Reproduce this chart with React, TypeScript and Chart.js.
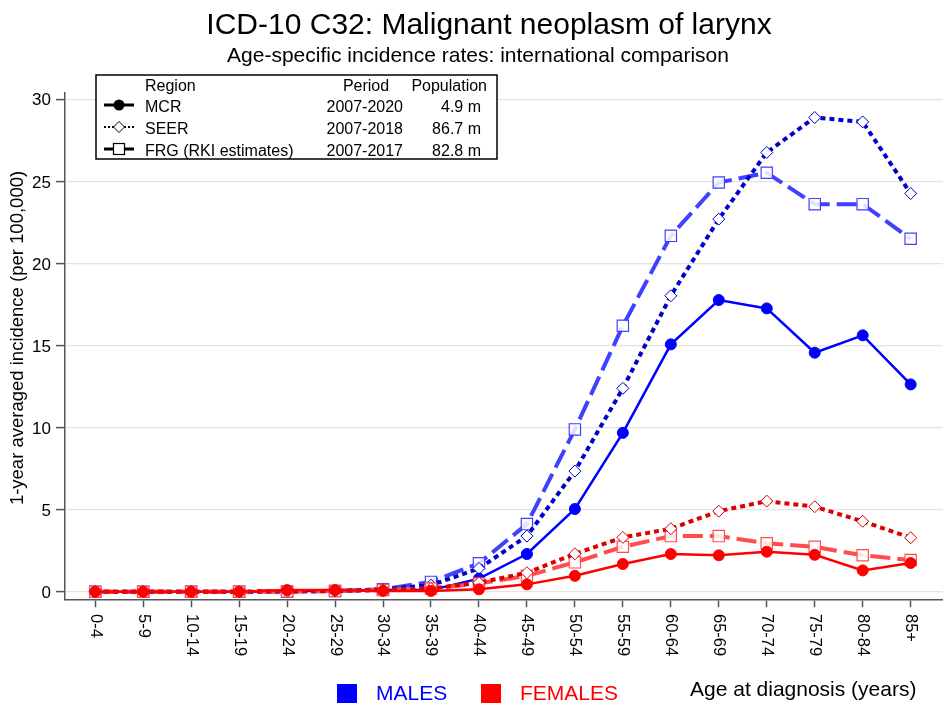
import React, { useEffect, useRef } from 'react';
import { Chart, registerables } from 'chart.js';

Chart.register(...registerables);

const categories = ['0-4', '5-9', '10-14', '15-19', '20-24', '25-29', '30-34', '35-39', '40-44', '45-49', '50-54', '55-59', '60-64', '65-69', '70-74', '75-79', '80-84', '85+'];

const maleMCR = [0, 0, 0, 0, 0.05, 0.05, 0.1, 0.1, 0.8, 2.3, 5.04, 9.68, 15.07, 17.77, 17.26, 14.56, 15.62, 12.63];
const maleSEER = [0, 0, 0, 0, 0.02, 0.05, 0.15, 0.4, 1.42, 3.39, 7.35, 12.39, 18.03, 22.7, 26.76, 28.89, 28.62, 24.26];
const maleFRG = [0, 0, 0, 0, 0.02, 0.05, 0.15, 0.6, 1.73, 4.12, 9.89, 16.2, 21.68, 24.93, 25.52, 23.61, 23.61, 21.5];
const femaleMCR = [0, 0, 0, 0, 0.1, 0.1, 0.05, 0.05, 0.15, 0.45, 0.97, 1.69, 2.3, 2.22, 2.44, 2.25, 1.3, 1.75];
const femaleSEER = [0, 0, 0, 0, 0.02, 0.04, 0.1, 0.2, 0.55, 1.16, 2.31, 3.31, 3.84, 4.91, 5.52, 5.18, 4.29, 3.29];
const femaleFRG = [0, 0, 0, 0, 0.02, 0.04, 0.1, 0.2, 0.5, 0.97, 1.79, 2.74, 3.39, 3.39, 2.95, 2.74, 2.22, 1.93];

const yTicks = [0, 5, 10, 15, 20, 25, 30];

const legendRegions = ['MCR', 'SEER', 'FRG (RKI estimates)'];
const legendPeriods = ['2007-2020', '2007-2018', '2007-2017'];
const legendPopulations = ['4.9 m', '86.7 m', '82.8 m'];

const TITLE = 'ICD-10 C32: Malignant neoplasm of larynx';
const SUBTITLE = 'Age-specific incidence rates: international comparison';
const Y_TITLE = '1-year averaged incidence (per 100,000)';
const X_TITLE = 'Age at diagnosis (years)';

const FONT = "'Liberation Sans', Arial, Helvetica, sans-serif";

type Kind = 'mcr' | 'seer' | 'frg';

function makeDataset(label: string, values: number[], color: string, kind: Kind) {
  const base: any = {
    label,
    data: values.map((v, i) => ({ x: i, y: v })),
    borderColor: color,
    pointBorderColor: color,
    tension: 0,
    fill: false,
  };
  if (kind === 'mcr') {
    return { ...base, borderWidth: 2.5, borderDash: [], pointStyle: 'circle', pointRadius: 5.5, pointBackgroundColor: color, pointBorderWidth: 1 };
  }
  if (kind === 'seer') {
    return { ...base, borderWidth: 4, borderDash: [5, 4], pointStyle: 'rectRot', pointRadius: 6, pointBackgroundColor: '#ffffff', pointBorderWidth: 1 };
  }
  return { ...base, borderWidth: 4, borderDash: [20, 7], pointStyle: 'rect', pointRadius: 8, pointBackgroundColor: 'rgba(255,255,255,0.85)', pointBorderWidth: 1.2 };
}

const overlay = {
  id: 'overlay',
  beforeDraw(chart: any) {
    const ctx = chart.ctx;
    ctx.save();
    ctx.fillStyle = '#ffffff';
    ctx.fillRect(0, 0, chart.width, chart.height);
    ctx.restore();
  },
  afterDraw(chart: any) {
    const ctx: CanvasRenderingContext2D = chart.ctx;
    ctx.save();
    ctx.fillStyle = '#000';
    ctx.textAlign = 'center';
    ctx.textBaseline = 'alphabetic';
    ctx.font = `30px ${FONT}`;
    ctx.fillText(TITLE, 489, 34);
    ctx.font = `21px ${FONT}`;
    ctx.fillText(SUBTITLE, 478, 61.5);

    // y title
    ctx.save();
    ctx.translate(18, 338);
    ctx.rotate(-Math.PI / 2);
    ctx.textAlign = 'center';
    ctx.textBaseline = 'middle';
    ctx.font = `18.5px ${FONT}`;
    ctx.fillText(Y_TITLE, 0, 0);
    ctx.restore();

    // x tick labels rotated clockwise
    const xs = chart.scales.x;
    ctx.font = `16.5px ${FONT}`;
    categories.forEach((c, i) => {
      const px = xs.getPixelForValue(i);
      ctx.save();
      ctx.translate(px, 614);
      ctx.rotate(Math.PI / 2);
      ctx.textAlign = 'left';
      ctx.textBaseline = 'middle';
      ctx.fillText(c, 0, 0);
      ctx.restore();
    });

    // bottom legend
    ctx.textBaseline = 'middle';
    ctx.textAlign = 'left';
    ctx.font = `21px ${FONT}`;
    ctx.fillStyle = '#0000ff';
    ctx.fillRect(337, 684, 20, 19);
    ctx.fillText('MALES', 376, 694);
    ctx.fillStyle = '#ff0000';
    ctx.fillRect(481, 684, 20, 19);
    ctx.fillText('FEMALES', 520, 694);
    ctx.fillStyle = '#000';
    ctx.fillText(X_TITLE, 690, 690);

    // legend box
    ctx.fillStyle = '#ffffff';
    ctx.fillRect(96, 75, 401, 84);
    ctx.strokeStyle = '#000';
    ctx.lineWidth = 1.5;
    ctx.strokeRect(96, 75, 401, 84);
    ctx.fillStyle = '#000';
    ctx.font = `16px ${FONT}`;
    ctx.textBaseline = 'middle';
    ctx.textAlign = 'left';
    ctx.fillText('Region', 145, 87);
    ctx.textAlign = 'center';
    ctx.fillText('Period', 366, 87);
    ctx.textAlign = 'right';
    ctx.fillText('Population', 487, 87);
    const rows = [108, 130, 152];
    const kinds: Kind[] = ['mcr', 'seer', 'frg'];
    rows.forEach((ry, k) => {
      ctx.textAlign = 'left';
      ctx.fillText(legendRegions[k], 145, ry);
      ctx.textAlign = 'right';
      ctx.fillText(legendPeriods[k], 403, ry);
      ctx.fillText(legendPopulations[k], 481, ry);
      const kind = kinds[k];
      ctx.save();
      ctx.strokeStyle = '#000';
      if (kind === 'mcr') {
        ctx.lineWidth = 3;
        ctx.setLineDash([]);
      } else if (kind === 'seer') {
        ctx.lineWidth = 2;
        ctx.setLineDash([2, 2]);
      } else {
        ctx.lineWidth = 3;
        ctx.setLineDash([]);
      }
      const cy = ry - 3;
      ctx.beginPath();
      ctx.moveTo(104, cy);
      ctx.lineTo(134, cy);
      ctx.stroke();
      ctx.setLineDash([]);
      const cx = 119;
      if (kind === 'mcr') {
        ctx.fillStyle = '#000';
        ctx.beginPath();
        ctx.arc(cx, cy, 5.5, 0, Math.PI * 2);
        ctx.fill();
      } else if (kind === 'seer') {
        ctx.fillStyle = '#fff';
        ctx.lineWidth = 1;
        ctx.beginPath();
        ctx.moveTo(cx, cy - 5.5);
        ctx.lineTo(cx + 5.5, cy);
        ctx.lineTo(cx, cy + 5.5);
        ctx.lineTo(cx - 5.5, cy);
        ctx.closePath();
        ctx.fill();
        ctx.stroke();
      } else {
        ctx.fillStyle = '#fff';
        ctx.lineWidth = 1.2;
        ctx.fillRect(cx - 5.5, cy - 5.5, 11, 11);
        ctx.strokeRect(cx - 5.5, cy - 5.5, 11, 11);
      }
      ctx.restore();
    });
    ctx.restore();
  },
};

export default function App() {
  const ref = useRef<HTMLCanvasElement>(null);
  useEffect(() => {
    if (!ref.current) return;
    const datasets = [
      makeDataset('Females MCR', femaleMCR, '#ff0000', 'mcr'),
      makeDataset('Females SEER', femaleSEER, '#dd0000', 'seer'),
      makeDataset('Females FRG', femaleFRG, '#ff4d4d', 'frg'),
      makeDataset('Males MCR', maleMCR, '#0000ff', 'mcr'),
      makeDataset('Males SEER', maleSEER, '#0000cc', 'seer'),
      makeDataset('Males FRG', maleFRG, '#4040ff', 'frg'),
    ];
    const chart = new Chart(ref.current, {
      type: 'line',
      data: { datasets },
      options: {
        responsive: false,
        devicePixelRatio: 1,
        animation: false,
        layout: { padding: { top: 92.7, right: 7, left: 0, bottom: 0 } },
        plugins: { legend: { display: false }, tooltip: { enabled: false }, title: { display: false } },
        scales: {
          x: {
            type: 'linear',
            min: -0.63,
            max: 17.67,
            afterFit: (s: any) => { s.height = 106.7; },
            afterBuildTicks: (s: any) => { s.ticks = categories.map((_, i) => ({ value: i })); },
            ticks: { display: true, color: 'rgba(0,0,0,0)', autoSkip: false, maxRotation: 0, minRotation: 0, callback: () => '' },
            grid: { drawOnChartArea: false, drawTicks: true, tickColor: '#555', tickLength: 8, tickWidth: 1.5 },
            border: { display: true, color: '#555', width: 1.5 },
          },
          y: {
            type: 'linear',
            min: -0.46,
            max: 30.4,
            afterFit: (s: any) => { s.width = 65; },
            afterBuildTicks: (s: any) => { s.ticks = yTicks.map((v) => ({ value: v })); },
            ticks: { font: { family: FONT, size: 17 }, color: '#000', padding: 5, labelOffset: 1.5 },
            grid: { color: '#e2e2e2', lineWidth: 1.2, drawTicks: true, tickColor: '#555', tickLength: 9, tickWidth: 1.5 },
            border: { display: true, color: '#555', width: 1.5 },
          },
        },
      } as any,
      plugins: [overlay],
    });
    return () => chart.destroy();
  }, []);
  return (
    <div style={{ position: 'fixed', left: 0, top: 0, width: 952, height: 706, background: '#fff' }}>
      <canvas ref={ref} width={952} height={706} style={{ display: 'block', width: 952, height: 706 }} />
    </div>
  );
}
